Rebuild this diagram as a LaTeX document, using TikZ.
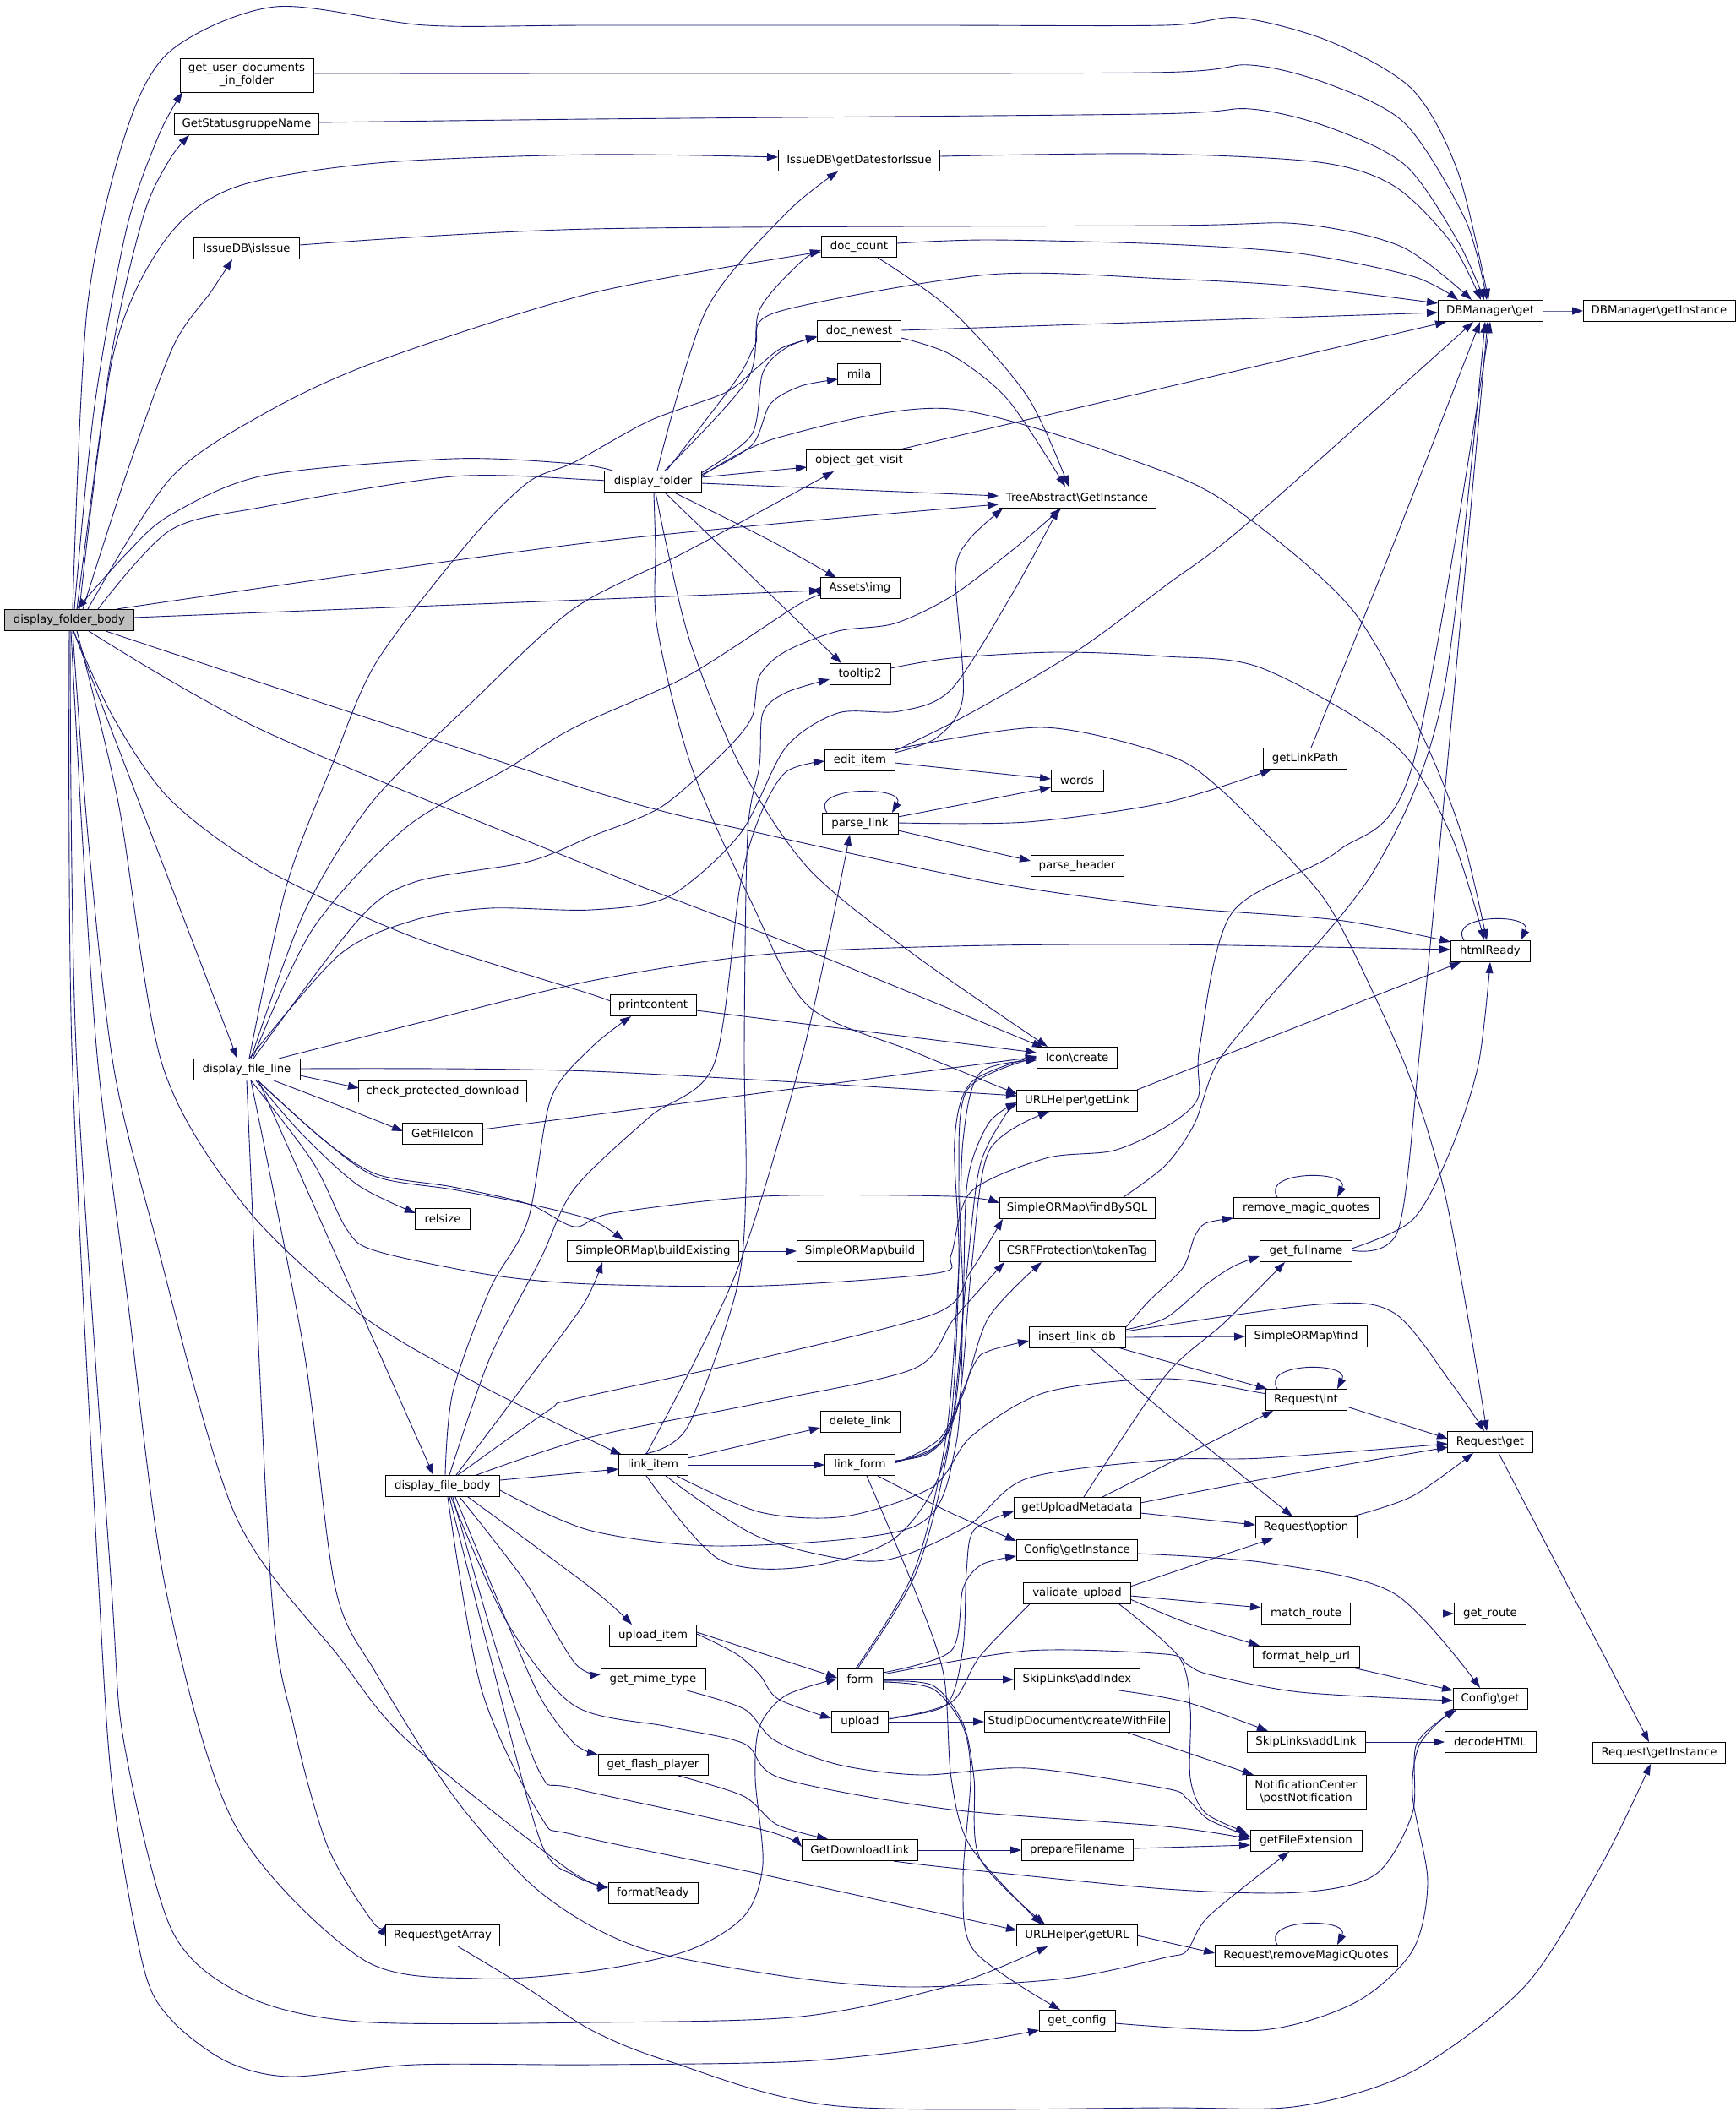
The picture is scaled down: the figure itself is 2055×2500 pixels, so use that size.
\documentclass[tikz,border=0pt]{standalone}
\usepackage{fontspec}
\setmainfont{DejaVu Sans}
\usetikzlibrary{arrows.meta}
\pgfdeclarelayer{bg}
\pgfsetlayers{bg,main}
\definecolor{edgec}{HTML}{191970}
\definecolor{nodegray}{HTML}{BFBFBF}
\tikzset{
 fn/.style={draw=black, line width=1pt, fill=white, inner sep=0pt, minimum height=25.5pt, font=\fontsize{13.3}{15}\selectfont, align=center},
 edge/.style={draw=edgec, line width=0.9pt, -{Triangle[length=13pt,width=9pt]}},
}
\newcommand\E[1]{\draw[edge] plot[smooth,tension=0.5] coordinates {#1};}
\newcommand\FN[5]{\node[fn,minimum width=#4pt] (#1) at (#2,#3) {#5};}
\newcommand\LOOP[1]{\draw[edge] ([xshift=-34,yshift=13]#1.center) .. controls +(-20,-32) and +(16,-32) .. ([xshift=37,yshift=13]#1.center);}
\begin{document}
\begin{tikzpicture}[x=1pt,y=-1pt]
\useasboundingbox (0,0) rectangle (2055,2500);
\node[fn,minimum width=153pt,fill=nodegray] (dfb) at (82,734) {display\_folder\_body};
\node[fn,minimum width=158pt,minimum height=40pt] (gud) at (292,89) {get\_user\_documents\\\_in\_folder};
\FN{gsn}{292}{147}{171}{GetStatusgruppeName}
\FN{iss}{292}{294}{125}{IssueDB\textbackslash isIssue}
\FN{gdi}{1017}{190}{191}{IssueDB\textbackslash getDatesforIssue}
\FN{dcount}{1017}{292}{89}{doc\_count}
\FN{dnew}{1017}{392}{99}{doc\_newest}
\FN{mila}{1017}{443}{51}{mila}
\FN{ogv}{1017}{545}{125}{object\_get\_visit}
\FN{df}{773}{570}{115}{display\_folder}
\FN{tag}{1275}{589}{186}{TreeAbstract\textbackslash GetInstance}
\FN{dbg}{1764}{368}{124}{DBManager\textbackslash get}
\FN{dbgi}{1964}{368}{180}{DBManager\textbackslash getInstance}
\FN{aimg}{1018}{696}{94}{Assets\textbackslash img}
\FN{tt2}{1018}{798}{72}{tooltip2}
\FN{edit}{1018}{900}{83}{edit\_item}
\FN{words}{1275}{924}{62}{words}
\FN{plink}{1018}{975}{90}{parse\_link}
\FN{phead}{1275}{1025}{110}{parse\_header}
\FN{glp}{1545}{898}{99}{getLinkPath}
\FN{html}{1764}{1126}{94}{htmlReady}
\FN{pc}{773}{1190}{102}{printcontent}
\FN{icon}{1275}{1252}{95}{Icon\textbackslash create}
\FN{ugl}{1275}{1303}{143}{URLHelper\textbackslash getLink}
\FN{dfl}{292}{1266}{126}{display\_file\_line}
\FN{cpd}{524}{1292}{199}{check\_protected\_download}
\FN{gfi}{524}{1342}{95}{GetFileIcon}
\FN{rel}{524}{1443}{65}{relsize}
\FN{fbs}{1275}{1430}{184}{SimpleORMap\textbackslash findBySQL}
\FN{rmq}{1546}{1430}{172}{remove\_magic\_quotes}
\FN{bex}{773}{1481}{203}{SimpleORMap\textbackslash buildExisting}
\FN{bld}{1018}{1481}{150}{SimpleORMap\textbackslash build}
\FN{csrf}{1275}{1481}{184}{CSRFProtection\textbackslash tokenTag}
\FN{gfn}{1546}{1481}{109}{get\_fullname}
\FN{ildb}{1275}{1583}{114}{insert\_link\_db}
\FN{sfind}{1546}{1582}{144}{SimpleORMap\textbackslash find}
\FN{rint}{1546}{1657}{96}{Request\textbackslash int}
\FN{dlink}{1018}{1683}{94}{delete\_link}
\FN{rget}{1764}{1707}{101}{Request\textbackslash get}
\FN{litem}{773}{1734}{82}{link\_item}
\FN{lform}{1018}{1734}{83}{link\_form}
\FN{dfbody}{524}{1759}{135}{display\_file\_body}
\FN{gum}{1275}{1785}{150}{getUploadMetadata}
\FN{ropt}{1546}{1808}{120}{Request\textbackslash option}
\FN{cgi}{1275}{1835}{143}{Config\textbackslash getInstance}
\FN{vup}{1275}{1886}{127}{validate\_upload}
\FN{mroute}{1546}{1910}{105}{match\_route}
\FN{groute}{1764}{1910}{85}{get\_route}
\FN{uitem}{773}{1936}{103}{upload\_item}
\FN{fhu}{1546}{1961}{126}{format\_help\_url}
\FN{form}{1018}{1988}{54}{form}
\FN{gmt}{773}{1988}{124}{get\_mime\_type}
\FN{sladd}{1275}{1988}{149}{SkipLinks\textbackslash addIndex}
\FN{cget}{1764}{2011}{88}{Config\textbackslash get}
\FN{upl}{1018}{2038}{67}{upload}
\FN{sdoc}{1275}{2038}{219}{StudipDocument\textbackslash createWithFile}
\FN{sllink}{1546}{2062}{140}{SkipLinks\textbackslash addLink}
\FN{dhtml}{1764}{2062}{108}{decodeHTML}
\FN{rgi}{1964}{2075}{157}{Request\textbackslash getInstance}
\FN{gfp}{773}{2089}{130}{get\_flash\_player}
\node[fn,minimum width=142pt,minimum height=40pt] (ncpn) at (1546,2121) {NotificationCenter\\\textbackslash postNotification};
\FN{gfe}{1546}{2179}{132}{getFileExtension}
\FN{gdl}{1018}{2190}{137}{GetDownloadLink}
\FN{pfn}{1275}{2190}{132}{prepareFilename}
\FN{fready}{773}{2241}{106}{formatReady}
\FN{rga}{524}{2291}{135}{Request\textbackslash getArray}
\FN{ugu}{1275}{2291}{143}{URLHelper\textbackslash getURL}
\FN{rrmq}{1546}{2315}{216}{Request\textbackslash removeMagicQuotes}
\FN{gcfg}{1275}{2392}{90}{get\_config}
\begin{pgfonlayer}{bg}
\fill[white] (0,0) rectangle (2055,2500);
% display_folder_body
\E{([xshift=4,yshift=13]dfb.center) (103,367) (147,163) (201,61) (326,8) (504,30) (700,30) (1100,30) (1380,30) (1467,21) (1574,49) (1672,106) (1726,204) ([xshift=-2,yshift=13]dbg.center)}
\E{([xshift=6,yshift=13]dfb.center) (112,480) (150,270) (188,160) ([xshift=-76,yshift=-20]gud.center)}
\E{([xshift=9,yshift=13]dfb.center) (132,420) (170,255) (200,190) ([xshift=-68,yshift=-13]gsn.center)}
\E{([xshift=12,yshift=13]dfb.center) (134,420) (195,285) (277,222) (446,193) (700,183) ([xshift=-96,yshift=4]gdi.center)}
\E{([xshift=16,yshift=13]dfb.center) (150,560) (205,410) (250,345) ([xshift=-17,yshift=-13]iss.center)}
\E{([xshift=22,yshift=13]dfb.center) (201,567) (312,490) (446,428) (700,347) ([xshift=-45,yshift=-6]dcount.center)}
\E{([xshift=34,yshift=13]dfb.center) (201,628) (312,600) (536,564) (700,568) ([xshift=-58,yshift=0]df.center)}
\E{([xshift=-48,yshift=13]df.center) (680,549) (536,543) (312,563) (201,610) (150,655) ([xshift=9,yshift=13]dfb.center)}
\E{([xshift=56,yshift=13]dfb.center) (700,642) ([xshift=-93,yshift=-8]tag.center)}
\E{([xshift=76,yshift=3]dfb.center) ([xshift=-47,yshift=-3]aimg.center)}
\E{([xshift=43,yshift=-13]dfb.center) (700,936) (903,987) (1171,1044) (1380,1073) (1583,1089) ([xshift=-47,yshift=11]html.center)}
\E{([xshift=23,yshift=-13]dfb.center) (312,865) (700,1026) (948,1122) ([xshift=-40,yshift=12]icon.center)}
\E{([xshift=5,yshift=-13]dfb.center) (134,849) (201,946) (312,1028) (491,1110) (700,1177) ([xshift=-51,yshift=4]pc.center)}
\E{([xshift=5,yshift=-13]dfb.center) (179,987) ([xshift=-11,yshift=13]dfl.center)}
\E{([xshift=9,yshift=-13]dfb.center) (140,950) (192,1260) (290,1428) (424,1554) (554,1632) (700,1705) ([xshift=-37,yshift=12]litem.center)}
\E{([xshift=4,yshift=-13]dfb.center) (105,1000) (134,1260) (180,1450) (277,1790) (402,1962) (482,2060) (670,2211) ([xshift=-53,yshift=8]fready.center)}
\E{([xshift=2,yshift=-13]dfb.center) (98,1000) (116,1260) (150,1530) (196,1880) (277,2158) (429,2319) (567,2342) (700,2333) (814,2309) (881,2268) (903,2207) (894,2105) (899,2044) (930,2007) ([xshift=-27,yshift=1]form.center)}
\E{([xshift=1,yshift=-13]dfb.center) (90,1240) (132,1880) (147,2064) (203,2284) (290,2362) (424,2393) (700,2394) (948,2387) (1126,2350) ([xshift=-35,yshift=-13]ugu.center)}
\E{([xshift=0,yshift=-13]dfb.center) (85,1240) (117,1880) (134,2125) (170,2329) (203,2391) (268,2440) (344,2458) (491,2444) (700,2444) (948,2440) (1126,2421) ([xshift=-45,yshift=-11]gcfg.center)}
% display_folder
\E{([xshift=5,yshift=13]df.center) (836,367) (930,253) ([xshift=-25,yshift=-13]gdi.center)}
\E{([xshift=14,yshift=13]df.center) (885,449) (899,367) (948,310) ([xshift=-45,yshift=-4]dcount.center)}
\E{([xshift=16,yshift=13]df.center) (872,449) (894,408) (921,369) (1171,325) (1380,330) (1538,339) ([xshift=-62,yshift=9]dbg.center)}
\E{([xshift=57,yshift=10]df.center) (890,514) (903,441) (930,412) ([xshift=-50,yshift=-6]dnew.center)}
\E{([xshift=57,yshift=8]df.center) (890,527) (912,478) (948,457) ([xshift=-25,yshift=-6]mila.center)}
\E{([xshift=57,yshift=6]df.center) (921,518) (1126,484) (1380,559) (1480,615) (1601,722) (1681,865) (1730,987) ([xshift=-4,yshift=13]html.center)}
\E{([xshift=57,yshift=5]df.center) ([xshift=-62,yshift=-8]ogv.center)}
\E{([xshift=57,yshift=-2]df.center) ([xshift=-93,yshift=2]tag.center)}
\E{([xshift=25,yshift=-13]df.center) (912,640) ([xshift=-28,yshift=12]aimg.center)}
\E{([xshift=14,yshift=-13]df.center) ([xshift=-22,yshift=13]tt2.center)}
\E{([xshift=3,yshift=-13]df.center) (790,650) (818,763) (876,906) (957,1028) (1082,1130) ([xshift=-35,yshift=13]icon.center)}
\E{([xshift=1,yshift=-13]df.center) (776,650) (778,743) (818,906) (890,1069) (957,1191) (1082,1245) ([xshift=-71,yshift=8]ugl.center)}
% into DBManager\get
\E{([xshift=79,yshift=2]gud.center) (700,87) (1360,86) (1480,77) (1574,100) (1664,147) (1735,261) ([xshift=-4,yshift=13]dbg.center)}
\E{([xshift=86,yshift=2]gsn.center) (700,141) (1360,135) (1480,129) (1574,151) (1664,196) (1726,286) ([xshift=-7,yshift=13]dbg.center)}
\E{([xshift=96,yshift=5]gdi.center) (1360,182) (1561,192) (1650,220) (1717,286) ([xshift=-11,yshift=13]dbg.center)}
\E{([xshift=63,yshift=4]iss.center) (700,271) (1380,267) (1538,265) (1659,292) ([xshift=-22,yshift=13]dbg.center)}
\E{([xshift=45,yshift=4]dcount.center) (1171,284) (1380,289) (1538,300) (1672,327) ([xshift=-38,yshift=13]dbg.center)}
\E{([xshift=50,yshift=1]dnew.center) ([xshift=-62,yshift=-2]dbg.center)}
\E{([xshift=48,yshift=13]ogv.center) ([xshift=-52,yshift=-13]dbg.center)}
\E{([xshift=41,yshift=11]edit.center) (1149,844) (1274,771) (1380,693) (1476,620) ([xshift=-20,yshift=-13]dbg.center)}
\E{([xshift=7,yshift=13]glp.center) (1610,742) (1659,620) ([xshift=-12,yshift=-13]dbg.center)}
\E{([xshift=54,yshift=1]gfn.center) (1655,1456) (1681,1240) (1717,865) ([xshift=-3,yshift=-13]dbg.center)}
\E{([xshift=55,yshift=13]fbs.center) (1380,1379) (1414,1330) (1440,1260) (1494,1191) (1628,1028) (1708,824) ([xshift=-6,yshift=-13]dbg.center)}
\E{([xshift=5,yshift=-13]dfl.center) (370,1375) (411,1456) (446,1481) (580,1509) (700,1520) (903,1522) (1109,1507) (1126,1485) (1149,1411) (1238,1371) (1318,1362) (1380,1334) (1418,1300) (1420,1240) (1458,1081) (1583,1008) (1672,906) ([xshift=0,yshift=-13]dbg.center)}
\E{([xshift=62,yshift=0]dbg.center) ([xshift=-90,yshift=0]dbgi.center)}
% TreeAbstract
\E{([xshift=22,yshift=-13]dcount.center) (1126,367) (1216,469) ([xshift=-10,yshift=13]tag.center)}
\E{([xshift=50,yshift=-8]dnew.center) (1126,420) (1193,473) ([xshift=-14,yshift=13]tag.center)}
\E{([xshift=41,yshift=9]edit.center) (1109,873) (1140,824) (1131,681) (1146,640) ([xshift=-88,yshift=-13]tag.center)}
\E{([xshift=8,yshift=13]dfl.center) (424,1089) (491,1044) (625,1020) (700,990) (783,955) (858,889) (890,849) (899,800) (930,771) (992,747) (1059,738) (1126,706) (1200,650) ([xshift=-19,yshift=-13]tag.center)}
\E{([xshift=3,yshift=13]dfl.center) (402,1130) (491,1089) (580,1075) (700,1077) (792,1061) (876,987) (930,885) (992,844) (1064,842) (1126,816) (1200,700) ([xshift=-22,yshift=-13]tag.center)}
% display_file_line
\E{([xshift=7,yshift=13]dfl.center) (370,1100) (480,980) (600,910) (680,861) (814,800) (948,714) ([xshift=-45,yshift=-12]aimg.center)}
\E{([xshift=5,yshift=13]dfl.center) (360,1080) (440,950) (560,830) (680,720) (814,652) ([xshift=-30,yshift=-13]ogv.center)}
\E{([xshift=3,yshift=13]dfl.center) (339,1049) (393,906) (446,783) (556,640) (625,571) (680,547) (769,498) (858,465) (894,437) (925,412) ([xshift=-50,yshift=-7]dnew.center)}
\E{([xshift=38,yshift=13]dfl.center) (491,1212) (700,1161) (903,1130) (1126,1120) (1380,1118) ([xshift=-47,yshift=2]html.center)}
\E{([xshift=63,yshift=1]dfl.center) (700,1268) ([xshift=-71,yshift=6]ugl.center)}
\E{([xshift=63,yshift=-7]dfl.center) ([xshift=-99,yshift=4]cpd.center)}
\E{([xshift=32,yshift=-13]dfl.center) (402,1309) ([xshift=-47,yshift=3]gfi.center)}
\E{([xshift=11,yshift=-13]dfl.center) (357,1342) (424,1403) ([xshift=-32,yshift=7]rel.center)}
\E{([xshift=13,yshift=-13]dfl.center) (384,1350) (446,1393) (536,1408) (625,1425) (700,1444) ([xshift=-35,yshift=13]bex.center)}
\E{([xshift=13,yshift=-13]dfl.center) (384,1350) (446,1390) (536,1405) (625,1425) (680,1452) (725,1436) (903,1416) (1126,1416) ([xshift=-92,yshift=6]fbs.center)}
\E{([xshift=5,yshift=-13]dfl.center) (360,1600) (397,1880) (446,1982) (536,2125) (625,2227) (700,2280) (783,2313) (948,2342) (1082,2352) (1260,2342) (1380,2317) (1405,2309) (1431,2268) ([xshift=-20,yshift=-13]gfe.center)}
\E{([xshift=0,yshift=-13]dfl.center) (321,1880) (348,2044) (388,2186) (442,2276) ([xshift=-67,yshift=13]rga.center)}
\E{([xshift=14,yshift=-13]dfl.center) ([xshift=-11,yshift=13]dfbody.center)}
% edit_item, parse_link, etc.
\E{([xshift=41,yshift=-3]edit.center) ([xshift=-31,yshift=2]words.center)}
\E{([xshift=45,yshift=8]plink.center) ([xshift=-31,yshift=-8]words.center)}
\E{([xshift=45,yshift=-8]plink.center) ([xshift=-55,yshift=6]phead.center)}
\E{([xshift=45,yshift=1]plink.center) (1216,973) (1380,950) ([xshift=-40,yshift=-13]glp.center)}
\draw[edge] ([xshift=-39,yshift=13]plink.center) .. controls +(-22,-32) and +(18,-32) .. ([xshift=38,yshift=13]plink.center);
\E{([xshift=41,yshift=13]edit.center) (1234,861) (1380,893) (1440,930) (1530,1020) (1583,1089) (1663,1260) (1708,1403) (1739,1567) ([xshift=-4,yshift=13]rget.center)}
\E{([xshift=36,yshift=7]tt2.center) (1126,779) (1251,772) (1380,777) (1494,791) (1650,881) (1717,987) ([xshift=-7,yshift=13]html.center)}
\draw[edge] ([xshift=-31,yshift=13]html.center) .. controls +(-20,-32) and +(16,-32) .. ([xshift=36,yshift=13]html.center);
\E{([xshift=71,yshift=13]ugl.center) ([xshift=-35,yshift=-13]html.center)}
\E{([xshift=54,yshift=3]gfn.center) (1672,1444) (1717,1362) (1750,1260) ([xshift=0,yshift=-13]html.center)}
\E{([xshift=51,yshift=-6]pc.center) ([xshift=-48,yshift=6]icon.center)}
\E{([xshift=47,yshift=5]gfi.center) ([xshift=-48,yshift=1]icon.center)}
% link_item
\E{([xshift=-10,yshift=13]litem.center) (814,1689) (872,1526) (883,1403) (881,1240) (885,987) (899,906) (903,844) (930,820) ([xshift=-36,yshift=-6]tt2.center)}
\E{([xshift=-8,yshift=13]litem.center) (872,1505) (952,1240) ([xshift=-12,yshift=-13]plink.center)}
\E{([xshift=41,yshift=8]litem.center) ([xshift=-47,yshift=-7]dlink.center)}
\E{([xshift=41,yshift=0]litem.center) ([xshift=-42,yshift=0]lform.center)}
\E{([xshift=-8,yshift=-13]litem.center) (850,1845) (950,1855) (1060,1820) (1120,1720) (1135,1500) (1130,1350) (1150,1281) ([xshift=-48,yshift=2]icon.center)}
\E{([xshift=28,yshift=-13]litem.center) (900,1790) (1000,1795) (1104,1760) (1150,1700) (1238,1648) (1380,1632) (1494,1649) ([xshift=-48,yshift=7]rint.center)}
\E{([xshift=15,yshift=-13]litem.center) (900,1820) (1037,1848) (1144,1807) (1216,1750) (1380,1728) (1494,1726) ([xshift=-50,yshift=-2]rget.center)}
% link_form
\E{([xshift=41,yshift=5]lform.center) (1100,1720) (1128,1680) (1140,1550) (1135,1400) (1145,1290) ([xshift=-48,yshift=0]icon.center)}
\E{([xshift=41,yshift=4]lform.center) (1105,1715) (1135,1660) (1150,1500) (1171,1362) ([xshift=-33,yshift=-13]ugl.center)}
\E{([xshift=41,yshift=3]lform.center) (1110,1710) (1140,1650) (1170,1560) ([xshift=-42,yshift=-13]csrf.center)}
\E{([xshift=41,yshift=2]lform.center) (1115,1700) (1153,1615) (1171,1599) ([xshift=-57,yshift=-4]ildb.center)}
\E{([xshift=21,yshift=-13]lform.center) (1126,1791) ([xshift=-72,yshift=11]cgi.center)}
\E{([xshift=8,yshift=-13]lform.center) (1082,1880) (1117,1982) (1126,2105) (1149,2186) ([xshift=-42,yshift=13]ugu.center)}
% form
\E{([xshift=-5,yshift=13]form.center) (1082,1860) (1120,1700) (1135,1500) (1140,1350) (1160,1270) ([xshift=-48,yshift=-3]icon.center)}
\E{([xshift=-3,yshift=13]form.center) (1085,1860) (1125,1700) (1145,1500) (1160,1380) (1190,1320) ([xshift=-71,yshift=-4]ugl.center)}
\E{([xshift=27,yshift=0]form.center) ([xshift=-75,yshift=0]sladd.center)}
\E{([xshift=27,yshift=-2]form.center) (1104,1995) (1140,2040) (1153,2105) (1160,2200) ([xshift=-38,yshift=13]ugu.center)}
\E{([xshift=27,yshift=-3]form.center) (1104,1999) (1140,2044) (1149,2105) (1140,2227) (1153,2309) ([xshift=-20,yshift=13]gcfg.center)}
\E{([xshift=27,yshift=6]form.center) (1216,1954) (1380,1958) (1405,1970) (1431,1982) (1539,2003) ([xshift=-44,yshift=-2]cget.center)}
\E{([xshift=27,yshift=8]form.center) (1126,1954) (1140,1880) (1162,1852) ([xshift=-72,yshift=-7]cgi.center)}
% upload
\E{([xshift=34,yshift=5]upl.center) (1120,2018) (1140,1950) (1144,1860) (1153,1811) ([xshift=-75,yshift=-4]gum.center)}
\E{([xshift=34,yshift=3]upl.center) (1126,2015) (1162,1958) ([xshift=-30,yshift=13]vup.center)}
\E{([xshift=34,yshift=0]upl.center) ([xshift=-110,yshift=0]sdoc.center)}
\E{([xshift=52,yshift=4]uitem.center) ([xshift=-27,yshift=2]form.center)}
\E{([xshift=52,yshift=2]uitem.center) (872,1958) (899,1982) (921,2011) ([xshift=-34,yshift=4]upl.center)}
% validate_upload etc.
\E{([xshift=63,yshift=8]vup.center) (1450,1840) ([xshift=-39,yshift=-13]ropt.center)}
\E{([xshift=63,yshift=-3]vup.center) ([xshift=-53,yshift=7]mroute.center)}
\E{([xshift=63,yshift=-7]vup.center) (1405,1921) ([xshift=-55,yshift=13]fhu.center)}
\E{([xshift=50,yshift=-13]vup.center) (1396,1962) (1409,2023) (1409,2105) (1427,2146) ([xshift=-70,yshift=10]gfe.center)}
\E{([xshift=53,yshift=0]mroute.center) ([xshift=-43,yshift=0]groute.center)}
\E{([xshift=55,yshift=-13]fhu.center) ([xshift=-44,yshift=10]cget.center)}
\E{([xshift=71,yshift=-4]cgi.center) (1500,1850) (1650,1886) ([xshift=-12,yshift=13]cget.center)}
\E{([xshift=50,yshift=-13]sladd.center) (1405,2015) ([xshift=-45,yshift=13]sllink.center)}
\E{([xshift=70,yshift=0]sllink.center) ([xshift=-54,yshift=0]dhtml.center)}
\E{([xshift=60,yshift=-13]sdoc.center) ([xshift=-62,yshift=20]ncpn.center)}
\E{([xshift=40,yshift=-13]gmt.center) (881,2023) (917,2060) (993,2089) (1091,2101) (1216,2093) (1380,2117) (1405,2129) (1431,2154) ([xshift=-66,yshift=5]gfe.center)}
\E{([xshift=30,yshift=-13]gfp.center) (880,2126) (920,2160) ([xshift=-38,yshift=13]gdl.center)}
\E{([xshift=69,yshift=0]gdl.center) ([xshift=-66,yshift=0]pfn.center)}
\E{([xshift=40,yshift=-13]gdl.center) (1126,2211) (1380,2236) (1538,2240) (1628,2219) (1672,2146) (1677,2064) ([xshift=-40,yshift=-13]cget.center)}
\E{([xshift=66,yshift=2]pfn.center) ([xshift=-66,yshift=-5]gfe.center)}
\E{([xshift=71,yshift=0]ugu.center) ([xshift=-108,yshift=3]rrmq.center)}
\E{([xshift=45,yshift=-3]gcfg.center) (1494,2403) (1605,2370) (1672,2309) (1690,2227) (1672,2125) (1681,2064) ([xshift=-42,yshift=-11]cget.center)}
\E{([xshift=18,yshift=-13]rga.center) (625,2354) (700,2403) (792,2440) (992,2493) (1380,2495) (1538,2493) (1672,2452) (1806,2350) (1896,2207) ([xshift=-10,yshift=-13]rgi.center)}
\E{([xshift=10,yshift=-13]rget.center) ([xshift=-12,yshift=13]rgi.center)}
% display_file_body
\E{([xshift=3,yshift=13]dfbody.center) (536,1648) (580,1526) (625,1444) (652,1301) (700,1240) ([xshift=-26,yshift=-13]pc.center)}
\E{([xshift=8,yshift=13]dfbody.center) (580,1607) (640,1490) (680,1407) (769,1322) (845,1260) (876,1049) (899,967) (930,914) ([xshift=-42,yshift=-1]edit.center)}
\E{([xshift=16,yshift=13]dfbody.center) (620,1640) (690,1545) ([xshift=-60,yshift=-13]bex.center)}
\E{([xshift=18,yshift=13]dfbody.center) (650,1669) (680,1656) (903,1607) (1109,1554) (1149,1505) ([xshift=-88,yshift=-13]fbs.center)}
\E{([xshift=40,yshift=13]dfbody.center) (700,1701) (903,1660) (1082,1620) (1130,1560) ([xshift=-86,yshift=-13]csrf.center)}
\E{([xshift=68,yshift=7]dfbody.center) ([xshift=-41,yshift=-5]litem.center)}
\E{([xshift=30,yshift=-13]dfbody.center) (700,1880) ([xshift=-25,yshift=13]uitem.center)}
\E{([xshift=20,yshift=-13]dfbody.center) (620,1870) (680,1968) ([xshift=-62,yshift=6]gmt.center)}
\E{([xshift=15,yshift=-13]dfbody.center) (600,1920) (640,2010) (680,2064) ([xshift=-65,yshift=12]gfp.center)}
\E{([xshift=12,yshift=-13]dfbody.center) (590,1960) (640,2100) (680,2117) (903,2166) ([xshift=-69,yshift=4]gdl.center)}
\E{([xshift=8,yshift=-13]dfbody.center) (580,1960) (640,2180) (680,2220) ([xshift=-53,yshift=6]fready.center)}
\E{([xshift=6,yshift=-13]dfbody.center) (570,2000) (640,2150) (680,2172) (903,2219) ([xshift=-71,yshift=6]ugu.center)}
\E{([xshift=10,yshift=-13]dfbody.center) (600,1920) (680,2019) (792,2044) (881,2064) (925,2105) (1126,2142) (1380,2162) ([xshift=-66,yshift=2]gfe.center)}
\E{([xshift=68,yshift=-5]dfbody.center) (700,1812) (860,1830) (1082,1807) (1131,1713) (1140,1550) (1145,1400) (1170,1330) ([xshift=-71,yshift=-2]ugl.center)}
% insert_link_db etc.
\E{([xshift=57,yshift=11]ildb.center) (1360,1540) (1400,1501) (1414,1464) (1427,1448) ([xshift=-86,yshift=-12]rmq.center)}
\E{([xshift=57,yshift=9]ildb.center) (1380,1560) (1427,1521) (1460,1499) ([xshift=-55,yshift=-6]gfn.center)}
\E{([xshift=57,yshift=7]ildb.center) (1561,1544) (1650,1554) (1720,1640) ([xshift=-7,yshift=13]rget.center)}
\E{([xshift=57,yshift=0]ildb.center) ([xshift=-72,yshift=0]sfind.center)}
\E{([xshift=48,yshift=-12]ildb.center) (1380,1611) ([xshift=-46,yshift=13]rint.center)}
\E{([xshift=16,yshift=-13]ildb.center) (1380,1673) ([xshift=-16,yshift=13]ropt.center)}
\LOOP{rmq}
\LOOP{rint}
\LOOP{rrmq}
\E{([xshift=48,yshift=-8]rint.center) ([xshift=-50,yshift=4]rget.center)}
\E{([xshift=55,yshift=13]ropt.center) (1672,1771) ([xshift=-20,yshift=-13]rget.center)}
\E{([xshift=8,yshift=13]gum.center) (1380,1628) (1449,1566) ([xshift=-25,yshift=-13]gfn.center)}
\E{([xshift=30,yshift=13]gum.center) (1380,1734) ([xshift=-39,yshift=-13]rint.center)}
\E{([xshift=75,yshift=6]gum.center) (1500,1750) ([xshift=-50,yshift=-6]rget.center)}
\E{([xshift=75,yshift=-6]gum.center) ([xshift=-60,yshift=3]ropt.center)}
\E{([xshift=101,yshift=0]bex.center) ([xshift=-75,yshift=0]bld.center)}
\end{pgfonlayer}
\end{tikzpicture}
\end{document}
